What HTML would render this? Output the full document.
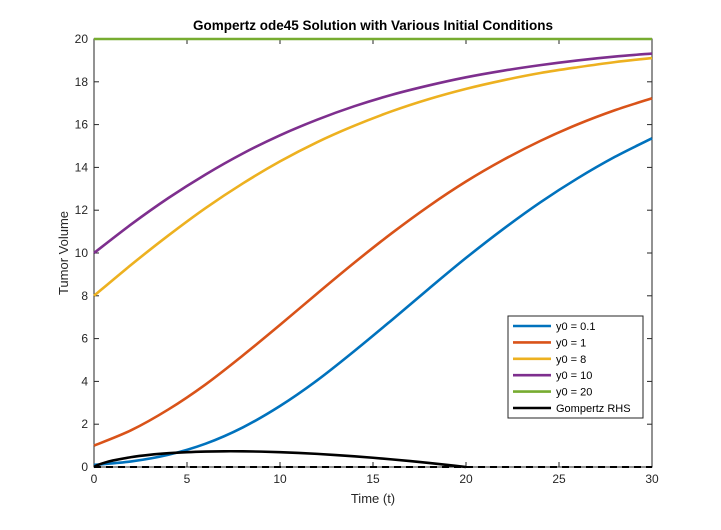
<!DOCTYPE html>
<html><head><meta charset="utf-8"><style>
body{margin:0;background:#fff;}
svg{font-family:"Liberation Sans",Arial,sans-serif;}
</style></head><body>
<svg id="chart" width="721" height="525" viewBox="0 0 721 525">
<rect x="0" y="0" width="721" height="525" fill="#fff"/>
<text x="373" y="30" text-anchor="middle" font-size="13.5" font-weight="bold" fill="#000">Gompertz ode45 Solution with Various Initial Conditions</text>
<g id="plot"></g>
</svg>
<script>
const tTimes=[0,2,4,6,8,10,12,14,16,18,20,22,24,26,28,30];
const yA=[0.1,0.261,0.574,1.09,1.85,2.85,4.05,5.42,6.86,8.33,9.77,11.12,12.37,13.49,14.49,15.36];
const yB=[1,1.72,2.69,3.86,5.21,6.64,8.11,9.55,10.92,12.19,13.34,14.35,15.24,16.01,16.67,17.23];
const yC=[8,9.45,10.82,12.10,13.25,14.28,15.18,15.95,16.62,17.19,17.67,18.07,18.41,18.68,18.92,19.11];
const yD=[10,11.34,12.57,13.67,14.65,15.50,16.23,16.86,17.39,17.83,18.21,18.52,18.78,19.00,19.18,19.32];
const yE=[20,20,20,20,20,20,20,20,20,20,20,20,20,20,20,20];
const rhsX=[0,0.2,0.5,1,2,3,4,5,6,7,8,9,10,11,12,13,14,15,16,17,18,19,20];
const rhsY=[0,0.092,0.184,0.300,0.461,0.569,0.644,0.693,0.722,0.735,0.733,0.719,0.693,0.658,0.613,0.560,0.499,0.432,0.357,0.276,0.190,0.097,0];
const xTicks=[0,5,10,15,20,25,30];
const yTicks=[0,2,4,6,8,10,12,14,16,18,20];
const legendLabels=["y0 = 0.1","y0 = 1","y0 = 8","y0 = 10","y0 = 20","Gompertz RHS"];
const colors=["#0072BD","#D95319","#EDB120","#7E2F8E","#77AC30","#000000"];

const L=94,R=652,T=39,B=467;
const sx=v=>L+(v-0)/(30-0)*(R-L);
const sy=v=>B-(v-0)/(20-0)*(B-T);
const NS="http://www.w3.org/2000/svg";
const g=document.getElementById('plot');
function mk(tag,attrs,parent){const e=document.createElementNS(NS,tag);for(const k in attrs)e.setAttribute(k,attrs[k]);(parent||g).appendChild(e);return e;}
function smoothPath(xs,ys){
  const p=xs.map((x,i)=>[sx(x),sy(ys[i])]);
  let d="M"+p[0][0]+","+p[0][1];
  for(let i=0;i<p.length-1;i++){
    const p0=p[i-1]||p[i],p1=p[i],p2=p[i+1],p3=p[i+2]||p[i+1];
    const c1=[p1[0]+(p2[0]-p0[0])/6,p1[1]+(p2[1]-p0[1])/6];
    const c2=[p2[0]-(p3[0]-p1[0])/6,p2[1]-(p3[1]-p1[1])/6];
    d+=" C"+c1[0]+","+c1[1]+" "+c2[0]+","+c2[1]+" "+p2[0]+","+p2[1];
  }
  return d;
}
// axes box
const box=mk('rect',{x:L,y:T,width:R-L,height:B-T,fill:'#fff',stroke:'#262626','stroke-width':1});


xTicks.forEach(v=>{
  const x=sx(v);
  mk('line',{x1:x,y1:B,x2:x,y2:B-5,stroke:'#262626'});
  mk('line',{x1:x,y1:T,x2:x,y2:T+5,stroke:'#262626'});
  const t=mk('text',{x:x,y:B+16,'text-anchor':'middle','font-size':12,fill:'#262626'});
  t.textContent=v;
  
  
});
yTicks.forEach(v=>{
  const y=sy(v);
  mk('line',{x1:L,y1:y,x2:L+5,y2:y,stroke:'#262626'});
  mk('line',{x1:R,y1:y,x2:R-5,y2:y,stroke:'#262626'});
  const t=mk('text',{x:L-6,y:y+4,'text-anchor':'end','font-size':12,fill:'#262626'});
  t.textContent=v;
  
  
});
const xl=mk('text',{x:(L+R)/2,y:B+36,'text-anchor':'middle','font-size':13,fill:'#262626'});
xl.textContent='Time (t)';


const yl=mk('text',{x:0,y:0,'text-anchor':'middle','font-size':13,fill:'#262626',transform:`translate(68,${(T+B)/2}) rotate(-90)`});
yl.textContent='Tumor Volume';


// dashed zero line
const dz=mk('line',{x1:L,y1:sy(0),x2:R,y2:sy(0),stroke:'#000','stroke-width':2,'stroke-dasharray':'7,5'});


const series=[yA,yB,yC,yD,yE];
const names=['series-y0-0-1','series-y0-1','series-y0-8','series-y0-10','series-y0-20'];
series.forEach((ys,i)=>{
  const p=mk('path',{d:smoothPath(tTimes,ys),fill:'none',stroke:colors[i],'stroke-width':2.6});
  
  
});
const rp=mk('path',{d:smoothPath(rhsX,rhsY),fill:'none',stroke:'#000','stroke-width':2.6});


// legend
const lg=mk('g',{});


mk('rect',{x:508,y:316,width:135,height:102,fill:'#fff',stroke:'#262626','stroke-width':1},lg);
legendLabels.forEach((lab,i)=>{
  const y=326+i*16.4;
  const e=mk('g',{},lg);
  
  
  mk('line',{x1:513,y1:y,x2:551,y2:y,stroke:colors[i],'stroke-width':2.6},e);
  const t=mk('text',{x:556,y:y+4,'font-size':11,fill:'#000'},e);
  t.textContent=lab;
});
</script>
</body></html>
